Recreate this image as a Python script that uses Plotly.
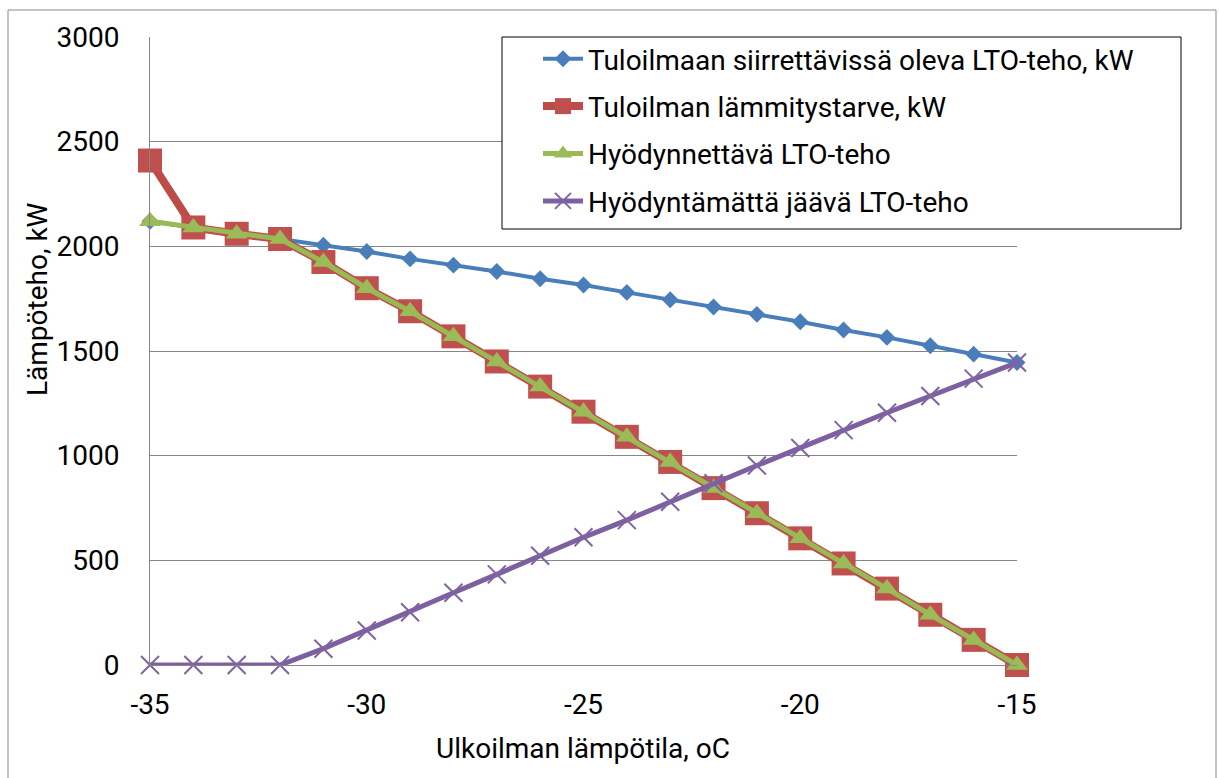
import plotly.graph_objects as go

temps = [-35, -34, -33, -32, -31, -30, -29, -28, -27, -26, -25, -24, -23, -22, -21, -20, -19, -18, -17, -16, -15]
siirrettava = [2120, 2090, 2060, 2035, 2005, 1975, 1940, 1910, 1880, 1845, 1815, 1780, 1745, 1710, 1675, 1640, 1600, 1565, 1525, 1485, 1445]
lammitystarve = [2410, 2090, 2060, 2035, 1925, 1800, 1690, 1570, 1450, 1330, 1210, 1090, 970, 845, 725, 605, 485, 365, 240, 120, 0]
hyodynnettava = [2120, 2090, 2060, 2035, 1925, 1800, 1690, 1570, 1450, 1330, 1210, 1090, 970, 845, 725, 605, 485, 365, 240, 120, 0]
hyodyntamatta = [0, 0, 0, 0, 78, 165, 252, 345, 433, 522, 610, 692, 780, 868, 953, 1037, 1122, 1205, 1285, 1368, 1445]

names = [
    "Tuloilmaan siirrettävissä oleva LTO-teho, kW",
    "Tuloilman lämmitystarve, kW",
    "Hyödynnettävä LTO-teho",
    "Hyödyntämättä jäävä LTO-teho",
]

x_ticks = [-35, -30, -25, -20, -15]
y_ticks = [0, 500, 1000, 1500, 2000, 2500, 3000]

FONT = "Roboto"
FS = 28

fig = go.Figure()
fig.add_trace(go.Scatter(x=temps, y=siirrettava, name=names[0], mode="lines+markers",
                         legendgroup="a", cliponaxis=False,
                         line=dict(color="#4A7EBB", width=4),
                         marker=dict(symbol="diamond", size=13, color="#4A7EBB")))
fig.add_trace(go.Scatter(x=temps, y=lammitystarve, name=names[1], mode="lines+markers",
                         legendgroup="b", cliponaxis=False,
                         line=dict(color="#BE4B48", width=8),
                         marker=dict(symbol="square", size=24, color="#C0504D")))
fig.add_trace(go.Scatter(x=temps, y=hyodynnettava, name=names[2], mode="lines+markers",
                         legendgroup="c", cliponaxis=False,
                         line=dict(color="#98B954", width=5),
                         marker=dict(symbol="triangle-up", size=19, color="#9BBB59")))
fig.add_trace(go.Scatter(x=temps, y=hyodyntamatta, name=names[3], mode="lines+markers",
                         legendgroup="d", cliponaxis=False,
                         line=dict(color="#7D60A0", width=5),
                         marker=dict(symbol="x-thin-open", size=18, color="#8064A2",
                                     line=dict(width=2, color="#8064A2"))))

W, H = 1219, 778
L, R, T, B = 150, 1017, 37, 665
pw, ph = R - L, B - T

def px(x):
    return (x - L) / pw

def py(y):
    return (B - y) / ph

shapes = [
    # legend box
    dict(type="rect", xref="paper", yref="paper", x0=px(502), x1=px(1181), y0=py(229), y1=py(37),
         line=dict(color="black", width=1), fillcolor="white", layer="above"),
    # outer chart border
    dict(type="path", xref="paper", yref="paper",
         path=f"M {px(8)},{py(780)} L {px(8)},{py(10)} L {px(1216)},{py(10)} L {px(1216)},{py(780)}",
         line=dict(color="#888888", width=1)),
]

annotations = [
    dict(text="Ulkoilman lämpötila, oC", xref="paper", yref="paper", x=px(583), y=py(748),
         xanchor="center", yanchor="middle", showarrow=False, font=dict(size=FS, color="black", family=FONT)),
    dict(text="Lämpöteho, kW", xref="paper", yref="paper", x=px(37), y=py(299),
         xanchor="center", yanchor="middle", showarrow=False, textangle=-90,
         font=dict(size=FS, color="black", family=FONT)),
]

fig.update_layout(
    width=W, height=H,
    margin=dict(l=L, r=W - R, t=T, b=H - B),
    paper_bgcolor="white", plot_bgcolor="white",
    font=dict(family=FONT, size=FS, color="black"),
    showlegend=True,
    legend=dict(x=px(538), y=py(34), xanchor="left", yanchor="top",
                bgcolor="rgba(0,0,0,0)", borderwidth=0,
                font=dict(size=FS, color="black", family=FONT),
                tracegroupgap=8, itemwidth=40),
    shapes=shapes,
    annotations=annotations,
    xaxis=dict(range=[-35, -15], tickvals=x_ticks, ticktext=[str(v) for v in x_ticks],
               showgrid=False, zeroline=False, showline=True, linecolor="#868686", linewidth=1,
               ticks="", ticklabelstandoff=14, tickfont=dict(size=FS)),
    yaxis=dict(range=[0, 3000], tickvals=y_ticks, ticktext=[str(v) for v in y_ticks],
               showgrid=True, gridcolor="#868686", gridwidth=1, zeroline=False,
               showline=True, linecolor="#868686", linewidth=1,
               ticks="", ticklabelstandoff=24, tickfont=dict(size=FS)),
)

fig.write_html("out.html")
